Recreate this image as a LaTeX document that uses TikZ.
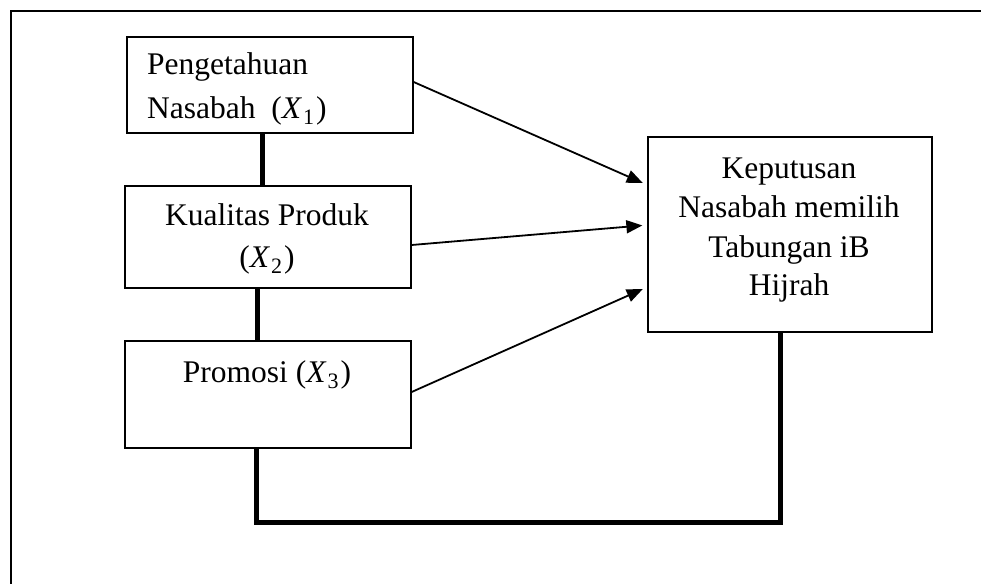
\documentclass[tikz,border=0pt]{standalone}
\usepackage{fontspec}
\setmainfont{Liberation Serif}
\usetikzlibrary{arrows.meta}
\newcommand{\Xv}[1]{\textit{X}\kern1pt\raisebox{-6pt}{\fontsize{22}{22}\selectfont #1}\kern2pt}
\begin{document}
\begin{tikzpicture}[x=1pt,y=-1pt,
  box/.style={draw,line width=1.3pt,inner sep=0pt,minimum width=286pt},
  lbl/.style={anchor=base,inner sep=0pt,font=\fontsize{31.5}{36}\selectfont},
  thick link/.style={line width=5pt},
  arr/.style={line width=1.8pt,-{Triangle[length=16pt,width=13pt]},shorten >=5pt}]
\useasboundingbox (0,0) rectangle (981,583);
\begin{scope}
\clip (0,0) rectangle (981,583);
\draw[line width=1.6pt] (11,600) -- (11,11) -- (1000,11);
\end{scope}
% boxes
\node[box,minimum height=96pt] (b1) at (270,85) {};
\node[box,minimum height=102pt] (b2) at (268,237) {};
\node[box,minimum height=107pt] (b3) at (268,394.5) {};
\node[box,minimum width=284pt,minimum height=195pt] (b4) at (790,234.5) {};
% texts
\node[lbl,anchor=base west] (t1a) at (147,75) {Pengetahuan};
\node[lbl,anchor=base west] (t1b) at (147,118) {Nasabah \ (\Xv{1})};
\node[lbl] (t2a) at (267,225) {Kualitas Produk};
\node[lbl] (t2b) at (267,267) {(\Xv{2})};
\node[lbl] (t3) at (267,382) {Promosi (\Xv{3})};
\node[lbl] (t4a) at (789,178) {Keputusan};
\node[lbl] (t4b) at (789,217) {Nasabah memilih};
\node[lbl] (t4c) at (789,257) {Tabungan iB};
\node[lbl] (t4d) at (789,295) {Hijrah};
% thick links
\draw[thick link] (b1.south -| 262,0) -- (b2.north -| 262,0);
\draw[thick link] (b2.south -| 257,0) -- (b3.north -| 257,0);
\coordinate (c1) at (256,522);
\coordinate (c2) at (780,522);
\draw[thick link,line join=miter] (b3.south -| c1) -- (c1) -- (c2) -- (b4.south -| c2);
% arrows
\draw[arr] (b1.east |- 0,82) -- (b4.west |- 0,185);
\draw[arr] (b2.east |- 0,245) -- (b4.west |- 0,225);
\draw[arr] (b3.east |- 0,392) -- (b4.west |- 0,287);
\end{tikzpicture}
\end{document}
